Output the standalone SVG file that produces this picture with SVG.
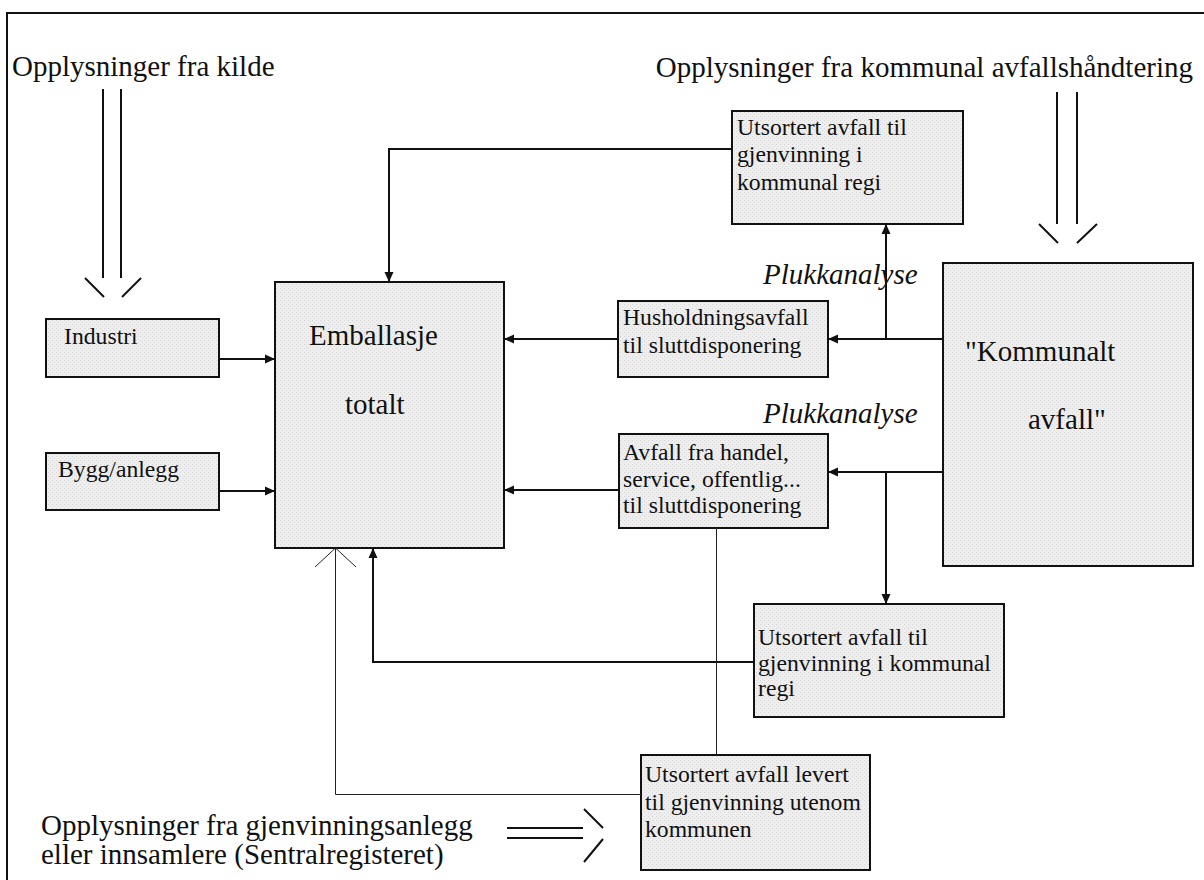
<svg xmlns="http://www.w3.org/2000/svg" width="1204" height="880" viewBox="0 0 1204 880">
<defs>
<marker id="ah" viewBox="0 0 10 10" refX="10" refY="5" markerWidth="10" markerHeight="10" markerUnits="userSpaceOnUse" orient="auto">
<path d="M0,0.5 L10,5 L0,9.5 Z" fill="#111"/>
</marker>
<pattern id="stip" width="4" height="4" patternUnits="userSpaceOnUse">
<rect width="4" height="4" fill="#eeeeee"/>
<rect x="0" y="0" width="1" height="1" fill="#d6d6d6"/>
<rect x="2" y="2" width="1" height="1" fill="#dcdcdc"/>
</pattern>
</defs>
<style>
.box{fill:url(#stip);stroke:#111;stroke-width:2}
.big{font-family:"Liberation Serif","Times New Roman",serif;font-size:29px;fill:#111}
.it{font-family:"Liberation Serif","Times New Roman",serif;font-size:29px;font-style:italic;fill:#111}
.sm{font-family:"Liberation Serif","Times New Roman",serif;font-size:23.7px;fill:#111}
.con{fill:none;stroke:#111;stroke-width:2}
.thin{fill:none;stroke:#222;stroke-width:1}
.dbl{fill:none;stroke:#111;stroke-width:2}
</style>
<rect width="1204" height="880" fill="#ffffff"/>
<rect x="7" y="13" width="1220" height="900" fill="none" stroke="#111" stroke-width="2"/>

<text class="big" x="12" y="76">Opplysninger fra kilde</text>
<text class="big" x="1193" y="77" text-anchor="end">Opplysninger fra kommunal avfallshåndtering</text>
<text class="big" x="41" y="835">Opplysninger fra gjenvinningsanlegg</text>
<text class="big" x="41" y="864">eller innsamlere (Sentralregisteret)</text>
<text class="it" x="763" y="284">Plukkanalyse</text>
<text class="it" x="763" y="423">Plukkanalyse</text>

<g id="emballasje">
<rect class="box" x="275" y="282" width="229" height="266"/>
<text class="big" x="309" y="345">Emballasje</text>
<text class="big" x="345" y="414">totalt</text>
</g>
<g id="industri">
<rect class="box" x="46" y="319" width="173" height="58"/>
<text class="sm" x="64" y="344">Industri</text>
</g>
<g id="bygg">
<rect class="box" x="46" y="453" width="173" height="57"/>
<text class="sm" x="58" y="477">Bygg/anlegg</text>
</g>
<g id="utsortert-top">
<rect class="box" x="732" y="111" width="231" height="113"/>
<text class="sm" x="737" y="135">Utsortert avfall til</text>
<text class="sm" x="737" y="162">gjenvinning i</text>
<text class="sm" x="737" y="190">kommunal regi</text>
</g>
<g id="husholdning">
<rect class="box" x="618" y="301" width="210" height="76"/>
<text class="sm" x="623" y="325">Husholdningsavfall</text>
<text class="sm" x="623" y="353">til sluttdisponering</text>
</g>
<g id="handel">
<rect class="box" x="619" y="434" width="209" height="94"/>
<text class="sm" x="623" y="460">Avfall fra handel,</text>
<text class="sm" x="623" y="487">service, offentlig...</text>
<text class="sm" x="623" y="513">til sluttdisponering</text>
</g>
<g id="kommunalt">
<rect class="box" x="943" y="263" width="250" height="303"/>
<text class="big" x="965" y="361">"Kommunalt</text>
<text class="big" x="1028" y="429">avfall"</text>
</g>
<g id="utsortert-low">
<rect class="box" x="754" y="604" width="250" height="113"/>
<text class="sm" x="758" y="645">Utsortert avfall til</text>
<text class="sm" x="758" y="671">gjenvinning i kommunal</text>
<text class="sm" x="758" y="696">regi</text>
</g>
<g id="levert">
<rect class="box" x="641" y="755" width="229" height="115"/>
<text class="sm" x="645" y="782">Utsortert avfall levert</text>
<text class="sm" x="645" y="810">til gjenvinning utenom</text>
<text class="sm" x="645" y="837">kommunen</text>
</g>

<g id="connectors">
<polyline class="con" points="732,149 389,149 389,282" marker-end="url(#ah)"/>
<line class="con" x1="219" y1="359" x2="275" y2="359" marker-end="url(#ah)"/>
<line class="con" x1="219" y1="491" x2="275" y2="491" marker-end="url(#ah)"/>
<line class="con" x1="618" y1="339" x2="504" y2="339" marker-end="url(#ah)"/>
<line class="con" x1="619" y1="490" x2="504" y2="490" marker-end="url(#ah)"/>
<line class="con" x1="943" y1="339" x2="828" y2="339" marker-end="url(#ah)"/>
<line class="con" x1="886" y1="339" x2="886" y2="224" marker-end="url(#ah)"/>
<line class="con" x1="943" y1="472" x2="828" y2="472" marker-end="url(#ah)"/>
<line class="con" x1="886" y1="472" x2="886" y2="604" marker-end="url(#ah)"/>
<polyline class="con" points="754,662 373,662 373,548" marker-end="url(#ah)"/>
<line class="thin" x1="716.5" y1="528" x2="716.5" y2="755"/>
<polyline class="thin" points="641,794.5 335.5,794.5 335.5,549"/>
<polyline class="thin" points="315,567 335.5,548 356,567"/>
<line class="dbl" x1="103" y1="89" x2="103" y2="278"/>
<line class="dbl" x1="121" y1="89" x2="121" y2="278"/>
<line class="dbl" x1="85" y1="278" x2="104" y2="297"/>
<line class="dbl" x1="122" y1="297" x2="141" y2="278"/>
<line class="dbl" x1="1057" y1="92" x2="1057" y2="224"/>
<line class="dbl" x1="1077" y1="92" x2="1077" y2="224"/>
<line class="dbl" x1="1039" y1="224" x2="1058" y2="243"/>
<line class="dbl" x1="1077" y1="243" x2="1097" y2="224"/>
<line class="dbl" x1="507" y1="828" x2="583" y2="828"/>
<line class="dbl" x1="507" y1="838" x2="583" y2="838"/>
<line class="dbl" x1="584" y1="809" x2="603" y2="828"/>
<line class="dbl" x1="603" y1="839" x2="584" y2="862"/>
</g>
</svg>
